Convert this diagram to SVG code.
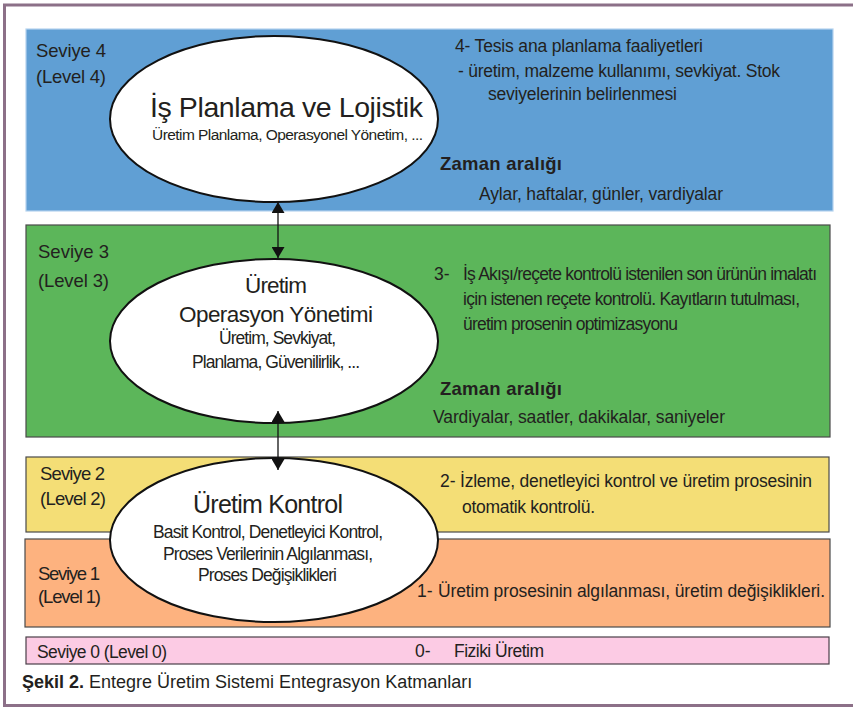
<svg xmlns="http://www.w3.org/2000/svg" width="853" height="707" viewBox="0 0 853 707">
<style>
text{font-family:"Liberation Sans",Arial,sans-serif;fill:#231f20}
.b{font-weight:bold}
.band{stroke-width:1.2}
.ell{fill:#fff;stroke:#111;stroke-width:2}
.frame{stroke:#8c7088;fill:none}
.conn{stroke:#111;stroke-width:1.3;fill:none}
</style>
<defs>
<marker id="ah" markerUnits="userSpaceOnUse" markerWidth="12" markerHeight="13" refX="11" refY="6.5" orient="auto-start-reverse">
<path d="M0,0 L11,6.5 L0,13 z" fill="#111"/>
</marker>
</defs>
<rect width="853" height="707" fill="#fff"/>
<g id="frame">
<line class="frame" x1="3" y1="5" x2="853" y2="5" stroke-width="3"/>
<line class="frame" x1="4.5" y1="4" x2="4.5" y2="706" stroke-width="3"/>
<line class="frame" x1="3" y1="705.5" x2="853" y2="705.5" stroke-width="3"/>
</g>
<g id="level4">
<rect class="band" x="26" y="29" width="807" height="182" fill="#609fd4" stroke="#b5d3ee"/>
<text x="36" y="57" font-size="18.5" textLength="70">Seviye 4</text>
<text x="36" y="83" font-size="18.5" textLength="70">(Level 4)</text>
<text x="455" y="52" font-size="17.5" textLength="248">4- Tesis ana planlama faaliyetleri</text>
<text x="458" y="77" font-size="17.5" textLength="322">- üretim, malzeme kullanımı, sevkiyat. Stok</text>
<text x="488" y="100" font-size="17.5" textLength="189">seviyelerinin belirlenmesi</text>
<text class="b" x="440" y="170" font-size="18.5" textLength="122">Zaman aralığı</text>
<text x="479" y="200" font-size="17.5" textLength="244">Aylar, haftalar, günler, vardiyalar</text>
</g>
<g id="level3">
<rect class="band" x="26" y="225" width="804" height="212" fill="#5cb65a" stroke="#4a4a4a"/>
<text x="38" y="258" font-size="18.5" textLength="71">Seviye 3</text>
<text x="38" y="287" font-size="18.5" textLength="71">(Level 3)</text>
<text x="434" y="280" font-size="17.5">3-</text>
<text x="463" y="280" font-size="17.5" textLength="354">İş Akışı/reçete kontrolü istenilen son ürünün imalatı</text>
<text x="463" y="305" font-size="17.5" textLength="337">için istenen reçete kontrolü. Kayıtların tutulması,</text>
<text x="463" y="330" font-size="17.5" textLength="215">üretim prosenin optimizasyonu</text>
<text class="b" x="440" y="395" font-size="18.5" textLength="122">Zaman aralığı</text>
<text x="433" y="423" font-size="17.5" textLength="292">Vardiyalar, saatler, dakikalar, saniyeler</text>
</g>
<g id="level2">
<rect class="band" x="26" y="457" width="803" height="75" fill="#f4de76" stroke="#4a4a4a"/>
<text x="40" y="480" font-size="18.5" textLength="65">Seviye 2</text>
<text x="40" y="505" font-size="18.5" textLength="66">(Level 2)</text>
<text x="440" y="487" font-size="17.5">2-</text>
<text x="460" y="487" font-size="17.5" textLength="352">İzleme, denetleyici kontrol ve üretim prosesinin</text>
<text x="462" y="513" font-size="17.5" textLength="133">otomatik kontrolü.</text>
</g>
<g id="level1">
<rect class="band" x="25" y="539" width="805" height="88" fill="#fdb27f" stroke="#4a4a4a"/>
<text x="38" y="580" font-size="18.5" textLength="62">Seviye 1</text>
<text x="38" y="603" font-size="18.5" textLength="63">(Level 1)</text>
<text x="417" y="597" font-size="17.5">1-</text>
<text x="438" y="597" font-size="17.5" textLength="387">Üretim prosesinin algılanması, üretim değişiklikleri.</text>
</g>
<g id="level0">
<rect class="band" x="26" y="637" width="803" height="27" fill="#fccbe4" stroke="#4a3f48"/>
<text x="37" y="658" font-size="17.5" textLength="130">Seviye 0 (Level 0)</text>
<text x="415" y="657" font-size="17.5">0-</text>
<text x="454" y="657" font-size="17.5" textLength="90">Fiziki Üretim</text>
</g>
<g id="node-planlama">
<ellipse class="ell" cx="274" cy="119" rx="164" ry="83"/>
<text x="150" y="117" font-size="28.5" textLength="273">İş Planlama ve Lojistik</text>
<text x="152" y="140" font-size="15.5" textLength="271">Üretim Planlama, Operasyonel Yönetim, ...</text>
</g>
<g id="node-operasyon">
<ellipse class="ell" cx="274" cy="341" rx="164" ry="82"/>
<text x="245" y="293" font-size="22.5" textLength="62">Üretim</text>
<text x="179" y="322" font-size="22.5" textLength="194">Operasyon Yönetimi</text>
<text x="219" y="344" font-size="17.5" textLength="117">Üretim, Sevkiyat,</text>
<text x="192" y="368" font-size="17.5" textLength="168">Planlama, Güvenilirlik, ...</text>
</g>
<g id="node-kontrol">
<ellipse class="ell" cx="274" cy="540" rx="164" ry="82"/>
<text x="193" y="513" font-size="25" textLength="150">Üretim Kontrol</text>
<text x="153" y="538" font-size="17.5" textLength="230">Basit Kontrol, Denetleyici Kontrol,</text>
<text x="163" y="560" font-size="17.5" textLength="210">Proses Verilerinin Algılanması,</text>
<text x="198" y="581" font-size="17.5" textLength="139">Proses Değişiklikleri</text>
</g>
<g id="connectors">
<line class="conn" x1="278" y1="202" x2="278" y2="258" marker-start="url(#ah)" marker-end="url(#ah)"/>
<line class="conn" x1="278" y1="411" x2="278" y2="470" marker-start="url(#ah)" marker-end="url(#ah)"/>
</g>
<g id="caption">
<text x="22" y="688" font-size="18"><tspan class="b">Şekil 2.</tspan> Entegre Üretim Sistemi Entegrasyon Katmanları</text>
</g>
</svg>
